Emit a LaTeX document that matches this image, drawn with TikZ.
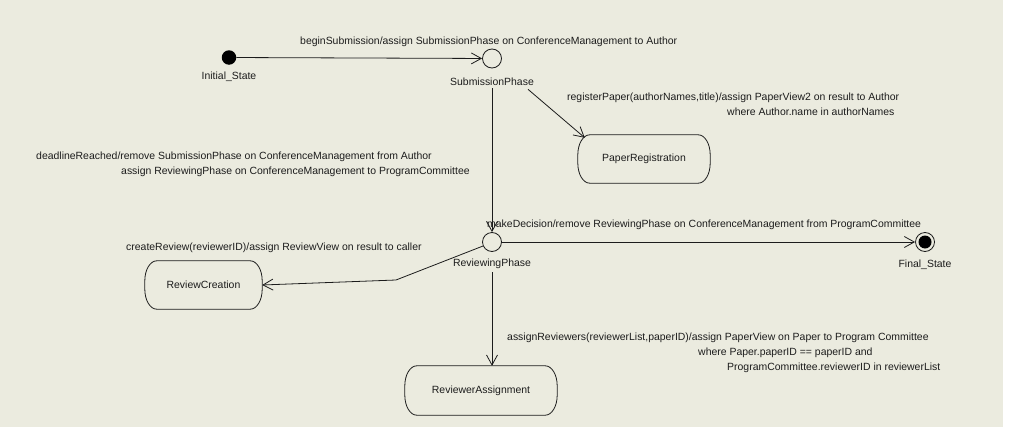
\documentclass[tikz,border=0pt]{standalone}
\usepackage{fontspec}
\setmainfont{Liberation Sans}
\usetikzlibrary{arrows.meta,calc}
\definecolor{canvas}{RGB}{235,235,223}
\definecolor{ink}{RGB}{28,28,28}
\begin{document}
\begin{tikzpicture}[x=1pt,y=-1pt,
  every node/.style={font=\fontsize{10.45}{15}\selectfont, text=ink},
  initstate/.style={circle, fill=black, minimum size=14.5pt, inner sep=0pt},
  pseudo/.style={circle, draw=ink, line width=0.8pt, fill=canvas, minimum size=19pt, inner sep=0pt},
  finalstate/.style={pseudo, path picture={\fill[black] (path picture bounding box.center) circle (6.5pt);}},
  statename/.style={inner sep=3pt},
  statebox/.style={rectangle, minimum height=48pt},
  stateborder/.style={draw=ink, line width=0.8pt},
  trans/.style={draw=ink, line width=0.8pt, -{Straight Barb[length=10pt,width=11pt]}},
  guard/.style={inner sep=0pt, align=left, anchor=west},
]
% canvas
\fill[white] (0,0) rectangle (1009,431);
\fill[canvas] (0,0) rectangle (1003,427);
\useasboundingbox (0,0) rectangle (1009,431);

% pseudo states and their names
\node[initstate] (init) at (229,57.5) {};
\node[statename] (initL) at (229,76.3) {Initial\_State};
\node[pseudo] (sub) at (492,58.5) {};
\node[statename] (subL) at (492,81.3) {SubmissionPhase};
\node[pseudo] (rev) at (492,242) {};
\node[statename] (revL) at (492,264) {ReviewingPhase};
\node[finalstate] (fin) at (925,242) {};
\node[statename] (finL) at (925,264.7) {Final\_State};

% states
\node[statebox, minimum width=132pt] (paper) at (644,159) {PaperRegistration};
\node[statebox, minimum width=117pt] (rc) at (203.5,285) {ReviewCreation};
\node[statebox, minimum width=152pt, minimum height=49pt] (ra) at (481,390.5) {ReviewerAssignment};

% state outlines with elliptical corners
\foreach \s in {paper,rc,ra}{
  \draw[stateborder]
    ($(\s.north west)+(12,0)$) -- ($(\s.north east)+(-12,0)$)
    arc[start angle=-90, end angle=0, x radius=12, y radius=20]
    -- ($(\s.south east)+(0,-20)$)
    arc[start angle=0, end angle=90, x radius=12, y radius=20]
    -- ($(\s.south west)+(12,0)$)
    arc[start angle=90, end angle=180, x radius=12, y radius=20]
    -- ($(\s.north west)+(0,20)$)
    arc[start angle=180, end angle=270, x radius=12, y radius=20]
    -- cycle;
}

% transitions
\coordinate (bend) at (396,280);
\draw[trans] (init) -- (sub);
\draw[trans] (subL.south) -- (rev.north);
\draw[trans] ($(subL.south east)+(-9,1)$) -- ($(paper.north west)+(7,3)$);
\draw[trans] (rev.204) -- (bend) -- (rc.east);
\draw[trans] (rev) -- (fin);
\draw[trans] (revL.south) -- (revL.south |- ra.north);

% transition labels
\node[anchor=west, inner sep=0pt] (tBegin) at (300,42) {beginSubmission/assign SubmissionPhase on ConferenceManagement to Author};
\node[guard] (tRegister) at (567,104.5) {registerPaper(authorNames,title)/assign PaperView2 on result to Author\\\hspace*{160pt}where Author.name in authorNames};
\node[guard] (tDeadline) at (36,164) {deadlineReached/remove SubmissionPhase on ConferenceManagement from Author\\\hspace*{85pt}assign ReviewingPhase on ConferenceManagement to ProgramCommittee};
\node[anchor=west, inner sep=0pt] (tDecide) at (487,225) {makeDecision/remove ReviewingPhase on ConferenceManagement from ProgramCommittee};
\node[anchor=west, inner sep=0pt] (tCreate) at (126,248) {createReview(reviewerID)/assign ReviewView on result to caller};
\node[guard] (tAssign) at (507,352.5) {assignReviewers(reviewerList,paperID)/assign PaperView on Paper to Program Committee\\\hspace*{191pt}where Paper.paperID == paperID and\\\hspace*{220pt}ProgramCommittee.reviewerID in reviewerList};
\end{tikzpicture}
\end{document}
